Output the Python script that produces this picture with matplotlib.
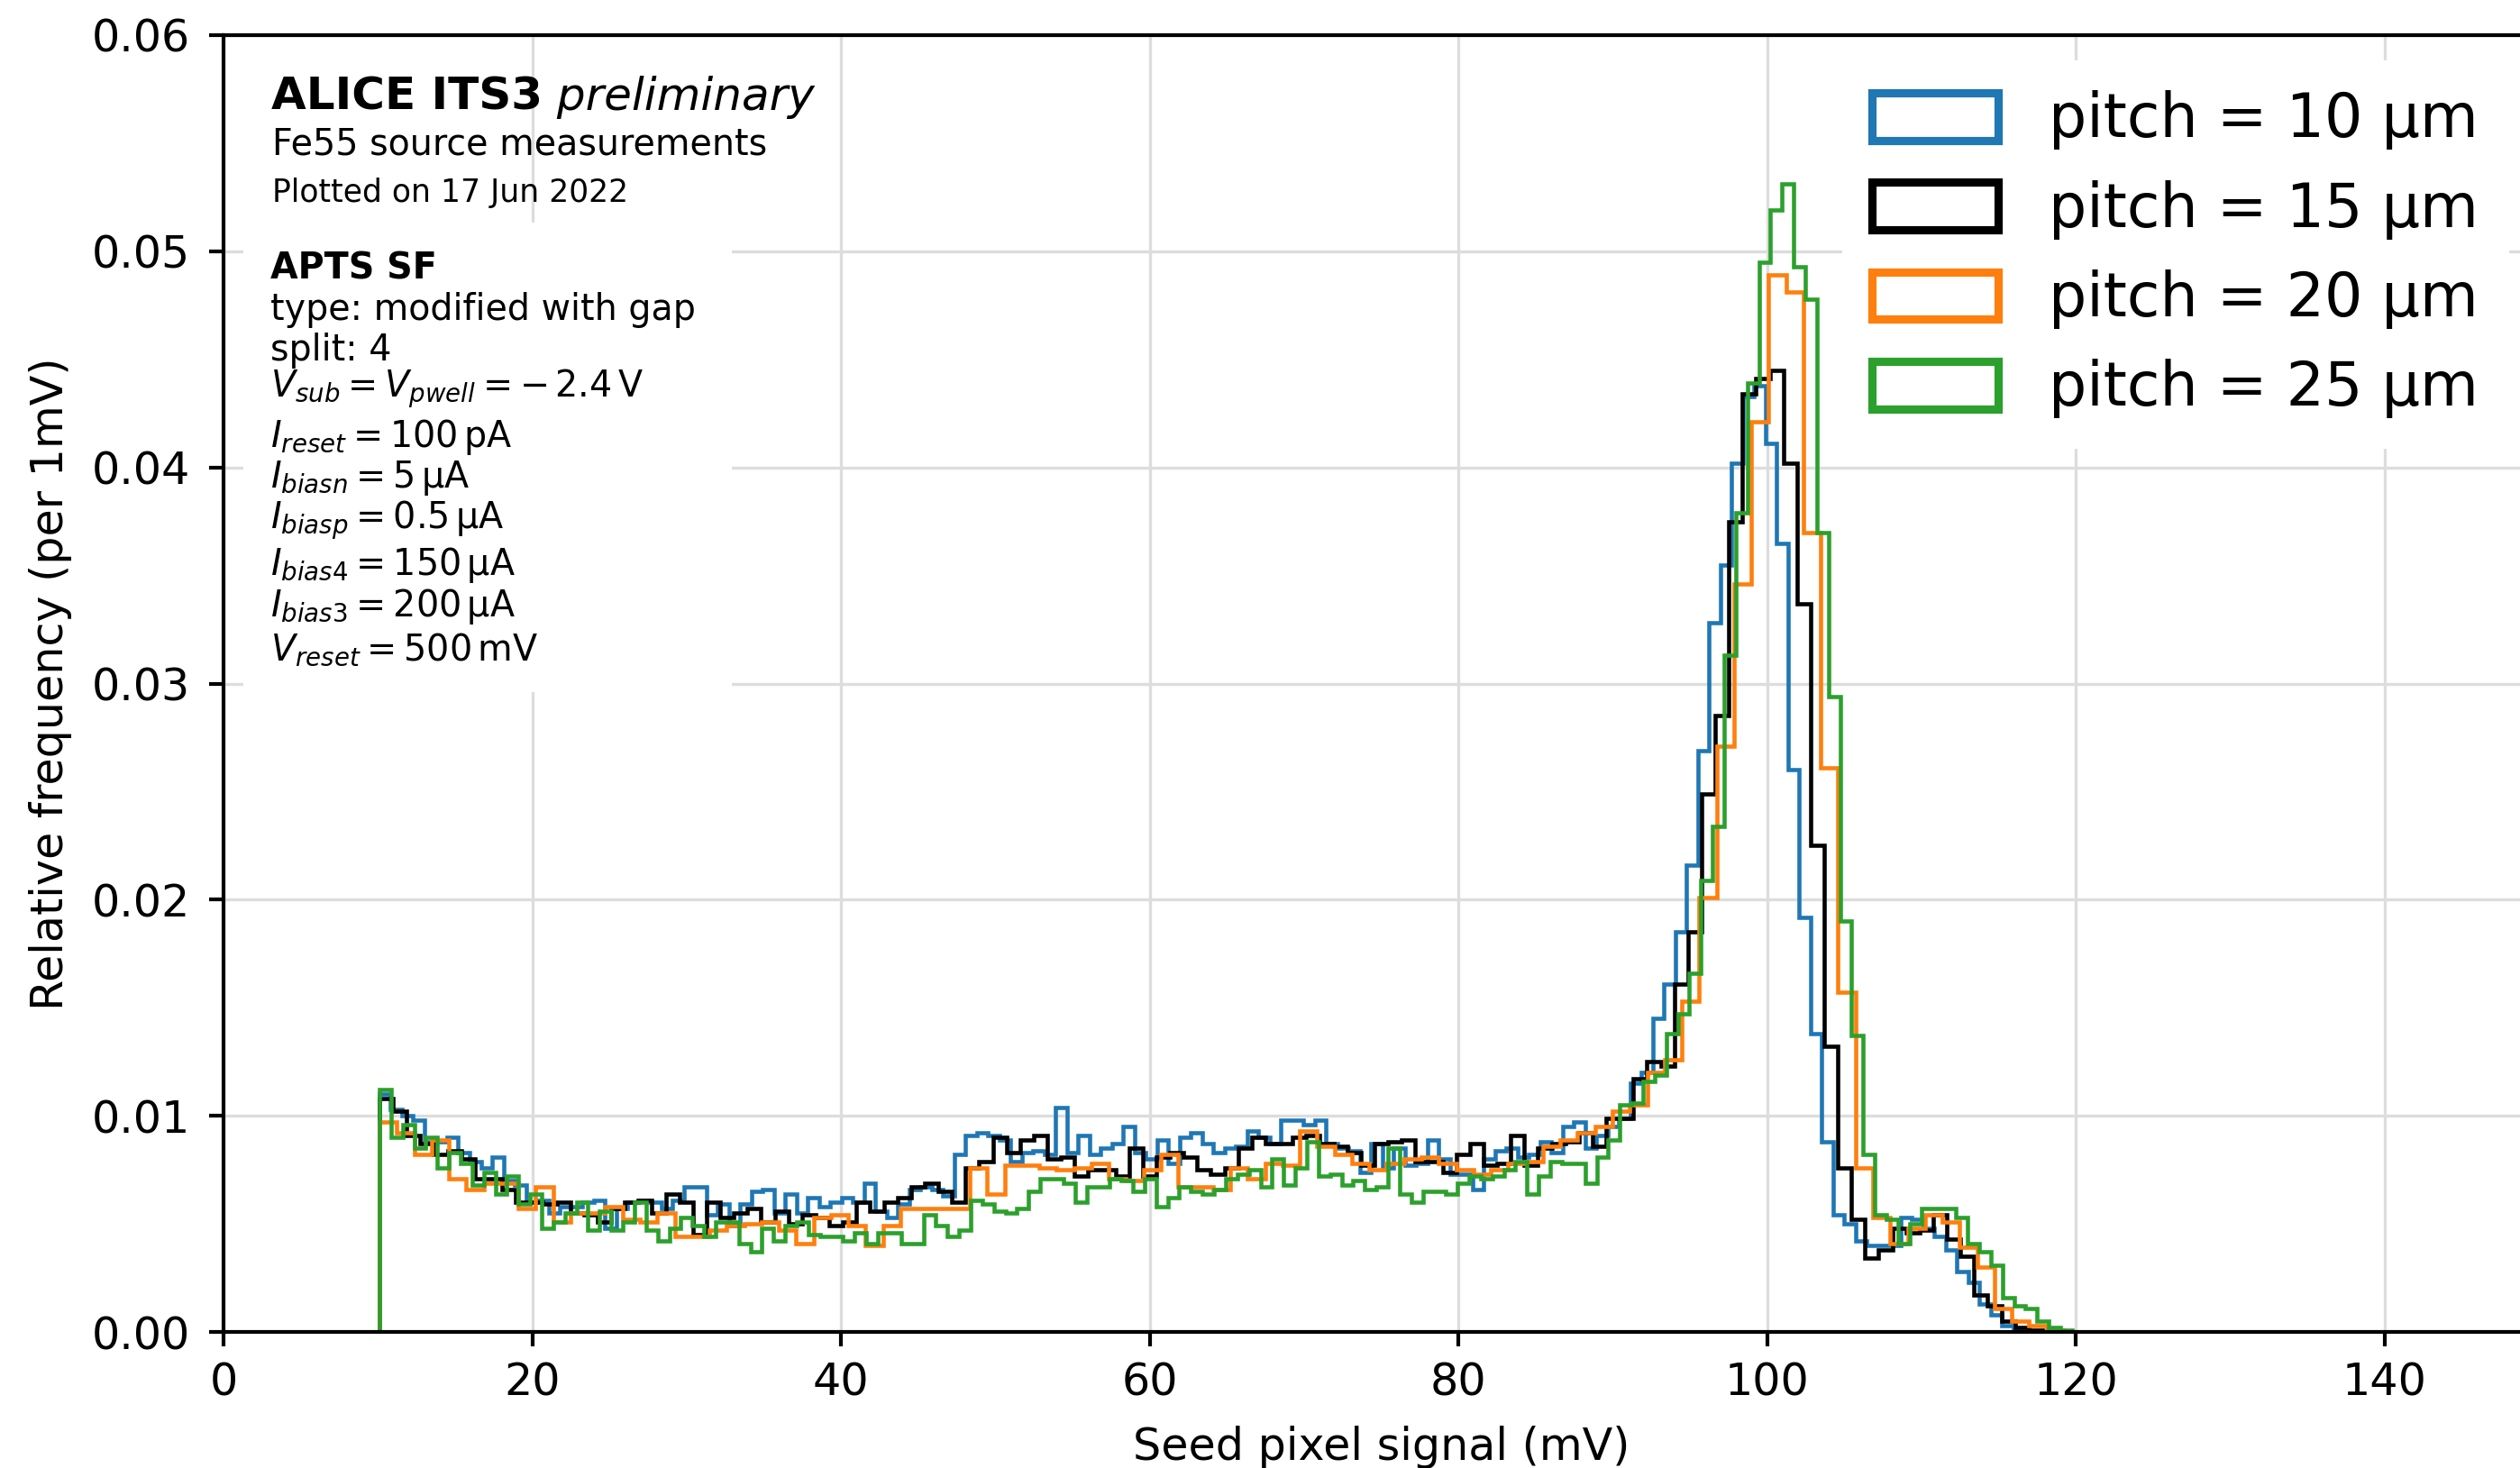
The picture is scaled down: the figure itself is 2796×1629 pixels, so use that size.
import numpy as np
import matplotlib
matplotlib.use("Agg")
import matplotlib.pyplot as plt
from matplotlib.patches import Rectangle
from matplotlib.ticker import FormatStrFormatter

# ---------------- data ----------------
series_labels = ["pitch = 10 μm", "pitch = 15 μm", "pitch = 20 μm", "pitch = 25 μm"]
series_colors = ["#1f77b4", "black", "#ff7f0e", "#2ca02c"]
first_edge_mV = 10.1
bin_width_mV = [0.73, 0.883, 1.125, 0.751]

freq_pitch10 = [
    0.0110, 0.0103, 0.0100, 0.0098, 0.0088, 0.0088, 0.0090, 0.0083, 0.0079, 0.0076,
    0.0081, 0.0070, 0.0068, 0.0060, 0.0061, 0.0055, 0.0058, 0.0058, 0.0060, 0.0061,
    0.0048, 0.0057, 0.0060, 0.0061, 0.0060, 0.0057, 0.0061, 0.0067, 0.0067, 0.0054,
    0.0059, 0.0049, 0.0059, 0.0065, 0.0066, 0.0055, 0.0064, 0.0055, 0.0062, 0.0058,
    0.0060, 0.0062, 0.0060, 0.0069, 0.0056, 0.0053, 0.0059, 0.0066, 0.0067, 0.0066,
    0.0063, 0.0082, 0.0091, 0.0092, 0.0091, 0.0089, 0.0079, 0.0083, 0.0084, 0.0082,
    0.0104, 0.0083, 0.0091, 0.0082, 0.0085, 0.0087, 0.0095, 0.0083, 0.0080, 0.0089,
    0.0078, 0.0090, 0.0092, 0.0087, 0.0083, 0.0085, 0.0086, 0.0093, 0.0090, 0.0087,
    0.0098, 0.0098, 0.0096, 0.0098, 0.0087, 0.0085, 0.0084, 0.0074, 0.0087, 0.0076,
    0.0085, 0.0077, 0.0078, 0.0089, 0.0080, 0.0073, 0.0073, 0.0066, 0.0080, 0.0084,
    0.0085, 0.0081, 0.0082, 0.0088, 0.0083, 0.0095, 0.0097, 0.0085, 0.0091, 0.0095,
    0.0099, 0.0115, 0.0120, 0.0145, 0.0161, 0.0185, 0.0216, 0.0269, 0.0328, 0.0355,
    0.0402, 0.0433, 0.0438, 0.0411, 0.0365, 0.0260, 0.0192, 0.0138, 0.0088, 0.0054,
    0.0050, 0.0042, 0.0040, 0.0040, 0.0040, 0.0053, 0.0052, 0.0048, 0.0044, 0.0038,
    0.0028, 0.0023, 0.0013, 0.0008, 0.0003, 0.0001, 0.0000,
]

freq_pitch15 = [
    0.0108, 0.0102, 0.0091, 0.0087, 0.0082, 0.0084, 0.0080, 0.0071, 0.0071, 0.0066,
    0.0060, 0.0060, 0.0059, 0.0060, 0.0055, 0.0054, 0.0051, 0.0057, 0.0060, 0.0061,
    0.0055, 0.0064, 0.0060, 0.0045, 0.0060, 0.0053, 0.0055, 0.0057, 0.0051, 0.0056,
    0.0050, 0.0054, 0.0053, 0.0049, 0.0051, 0.0060, 0.0056, 0.0060, 0.0062, 0.0067,
    0.0069, 0.0065, 0.0060, 0.0076, 0.0079, 0.0090, 0.0083, 0.0089, 0.0091, 0.0080,
    0.0081, 0.0072, 0.0075, 0.0075, 0.0072, 0.0085, 0.0072, 0.0081, 0.0083, 0.0081,
    0.0075, 0.0073, 0.0076, 0.0085, 0.0090, 0.0087, 0.0087, 0.0090, 0.0091, 0.0087,
    0.0086, 0.0083, 0.0077, 0.0087, 0.0088, 0.0089, 0.0079, 0.0079, 0.0074, 0.0082,
    0.0087, 0.0077, 0.0078, 0.0091, 0.0077, 0.0085, 0.0087, 0.0088, 0.0092, 0.0086,
    0.0099, 0.0099, 0.0117, 0.0125, 0.0123, 0.0161, 0.0185, 0.0249, 0.0285, 0.0375,
    0.0434, 0.0441, 0.0445, 0.0402, 0.0337, 0.0225, 0.0132, 0.0076, 0.0052, 0.0034,
    0.0038, 0.0048, 0.0046, 0.0047, 0.0054, 0.0043, 0.0035, 0.0017, 0.0012, 0.0005,
    0.0002, 0.0001,
]

freq_pitch20 = [
    0.0097, 0.0092, 0.0082, 0.0089, 0.0071, 0.0066, 0.0069, 0.0069, 0.0057, 0.0067,
    0.0051, 0.0055, 0.0055, 0.0058, 0.0052, 0.0051, 0.0055, 0.0044, 0.0044, 0.0047,
    0.0049, 0.0050, 0.0051, 0.0047, 0.0041, 0.0053, 0.0054, 0.0049, 0.0040, 0.0049,
    0.0057, 0.0057, 0.0057, 0.0057, 0.0076, 0.0064, 0.0077, 0.0077, 0.0076, 0.0075,
    0.0076, 0.0078, 0.0071, 0.0070, 0.0075, 0.0082, 0.0067, 0.0067, 0.0066, 0.0076,
    0.0071, 0.0078, 0.0077, 0.0093, 0.0086, 0.0082, 0.0078, 0.0075, 0.0078, 0.0080,
    0.0081, 0.0078, 0.0075, 0.0073, 0.0075, 0.0078, 0.0079, 0.0086, 0.0089, 0.0092,
    0.0095, 0.0102, 0.0105, 0.0120, 0.0126, 0.0153, 0.0201, 0.0271, 0.0346, 0.0421,
    0.0489, 0.0481, 0.0370, 0.0261, 0.0157, 0.0076, 0.0053, 0.0041, 0.0048, 0.0054,
    0.0051, 0.0039, 0.0030, 0.0011, 0.0005, 0.0003, 0.0001, 0.0000,
]

freq_pitch25 = [
    0.0112, 0.0090, 0.0096, 0.0085, 0.0090, 0.0076, 0.0083, 0.0078, 0.0068, 0.0074,
    0.0064, 0.0072, 0.0059, 0.0064, 0.0048, 0.0051, 0.0055, 0.0060, 0.0047, 0.0056,
    0.0047, 0.0051, 0.0060, 0.0047, 0.0042, 0.0048, 0.0053, 0.0049, 0.0044, 0.0051,
    0.0051, 0.0041, 0.0037, 0.0048, 0.0042, 0.0049, 0.0051, 0.0045, 0.0044, 0.0044,
    0.0042, 0.0046, 0.0041, 0.0046, 0.0046, 0.0041, 0.0041, 0.0054, 0.0049, 0.0044,
    0.0047, 0.0061, 0.0059, 0.0056, 0.0055, 0.0057, 0.0065, 0.0071, 0.0071, 0.0069,
    0.0060, 0.0067, 0.0067, 0.0071, 0.0070, 0.0065, 0.0071, 0.0058, 0.0062, 0.0067,
    0.0065, 0.0064, 0.0066, 0.0071, 0.0073, 0.0075, 0.0067, 0.0080, 0.0068, 0.0076,
    0.0088, 0.0072, 0.0073, 0.0068, 0.0070, 0.0066, 0.0067, 0.0085, 0.0064, 0.0060,
    0.0065, 0.0065, 0.0064, 0.0069, 0.0072, 0.0071, 0.0072, 0.0075, 0.0079, 0.0064,
    0.0072, 0.0079, 0.0078, 0.0078, 0.0069, 0.0081, 0.0089, 0.0105, 0.0106, 0.0116,
    0.0119, 0.0138, 0.0147, 0.0166, 0.0209, 0.0234, 0.0313, 0.0379, 0.0439, 0.0495,
    0.0519, 0.0531, 0.0493, 0.0478, 0.0370, 0.0294, 0.0190, 0.0137, 0.0082, 0.0054,
    0.0052, 0.0041, 0.0050, 0.0057, 0.0057, 0.0057, 0.0053, 0.0041, 0.0037, 0.0031,
    0.0016, 0.0012, 0.0011, 0.0005, 0.0002, 0.0001,
]

x_ticks = [0, 20, 40, 60, 80, 100, 120, 140]
y_ticks = [0.00, 0.01, 0.02, 0.03, 0.04, 0.05, 0.06]

info_title_bold = "ALICE ITS3"
info_title_italic = " preliminary"
info_subtitle = "Fe55 source measurements"
info_date = "Plotted on 17 Jun 2022"
info_device = "APTS SF"
info_params = [
    "type: modified with gap",
    "split: 4",
    r"$V_{sub}=V_{pwell}=-\,2.4\,\mathrm{V}$",
    r"$I_{reset}=100\,\mathrm{pA}$",
    r"$I_{biasn}=5\,\mathrm{\mu A}$",
    r"$I_{biasp}=0.5\,\mathrm{\mu A}$",
    r"$I_{bias4}=150\,\mathrm{\mu A}$",
    r"$I_{bias3}=200\,\mathrm{\mu A}$",
    r"$V_{reset}=500\,\mathrm{mV}$",
]

# ---------------- figure ----------------
W, H, DPI = 2796, 1629, 300
plt.rcParams["font.family"] = ["DejaVu Sans"]
fig = plt.figure(figsize=(W / DPI, H / DPI), dpi=DPI)


def fx(p):
    return p / W


def fy(p):
    return 1 - p / H


ax = fig.add_axes([fx(248), fy(1478), (2817 - 248) / W, (1478 - 39) / H])

series = [freq_pitch10, freq_pitch15, freq_pitch20, freq_pitch25]
for vals, bw, col in zip(series, bin_width_mV, series_colors):
    edges = first_edge_mV + bw * np.arange(len(vals) + 1)
    ax.stairs(vals, edges, color=col, lw=1.1, zorder=2)

ax.set_xlim(0, 150)
ax.set_ylim(0, 0.06)
ax.set_xticks(x_ticks)
ax.set_yticks(y_ticks)
ax.yaxis.set_major_formatter(FormatStrFormatter("%.2f"))
ax.grid(True, color="#dddddd", lw=0.8)
ax.set_axisbelow(True)
for s in ax.spines.values():
    s.set_linewidth(1.0)
ax.spines["right"].set_visible(False)
ax.tick_params(axis="both", direction="out", length=3.8, width=1.0, labelsize=11.8)
ax.tick_params(axis="y", pad=5)
ax.tick_params(axis="x", pad=4)

ax.set_xlabel("Seed pixel signal (mV)", fontsize=11.8)
ax.set_ylabel("Relative frequency (per 1mV)", fontsize=11.8)
ax.xaxis.set_label_coords(0.5, (1478 - 1582) / 1439)
ax.yaxis.set_label_coords((80 - 248) / 2569, 0.5)

# white box behind the parameter block
ax.add_patch(Rectangle((fx(270), fy(768)), fx(812) - fx(270), fy(247) - fy(768),
                       transform=fig.transFigure, facecolor="white",
                       edgecolor="none", zorder=1.5))

# legend
handles = [Rectangle((0, 0), 1, 1, facecolor="none", edgecolor=c, lw=2.2)
           for c in series_colors]
leg = ax.legend(handles, series_labels, loc="upper left",
                bbox_to_anchor=(fx(2044), fy(67)), bbox_transform=fig.transFigure,
                borderaxespad=0, fontsize=16, frameon=True, framealpha=1,
                facecolor="white", edgecolor="none", fancybox=False,
                handlelength=2.1, handleheight=0.84, handletextpad=0.84,
                labelspacing=0.5, borderpad=0.5)

# info text
t_bold = fig.text(fx(301), fy(122), info_title_bold, fontsize=12, weight="bold",
                  va="baseline", ha="left")
renderer = fig.canvas.get_renderer()
bb = t_bold.get_window_extent(renderer)
fig.text(bb.x1 / W, fy(122), info_title_italic, fontsize=12, style="italic",
         va="baseline", ha="left")
fig.text(fx(302), fy(171), info_subtitle, fontsize=9.5, va="baseline")
fig.text(fx(302), fy(224), info_date, fontsize=8.3, va="baseline")
fig.text(fx(300), fy(309), info_device, fontsize=9.5, weight="bold", va="baseline")
param_baselines = [355, 400, 441, 496, 541, 587, 638, 684, 732]
for txt, yb in zip(info_params, param_baselines):
    fig.text(fx(300), fy(yb), txt, fontsize=9.5, va="baseline")

fig.savefig("out.png", dpi=DPI)
